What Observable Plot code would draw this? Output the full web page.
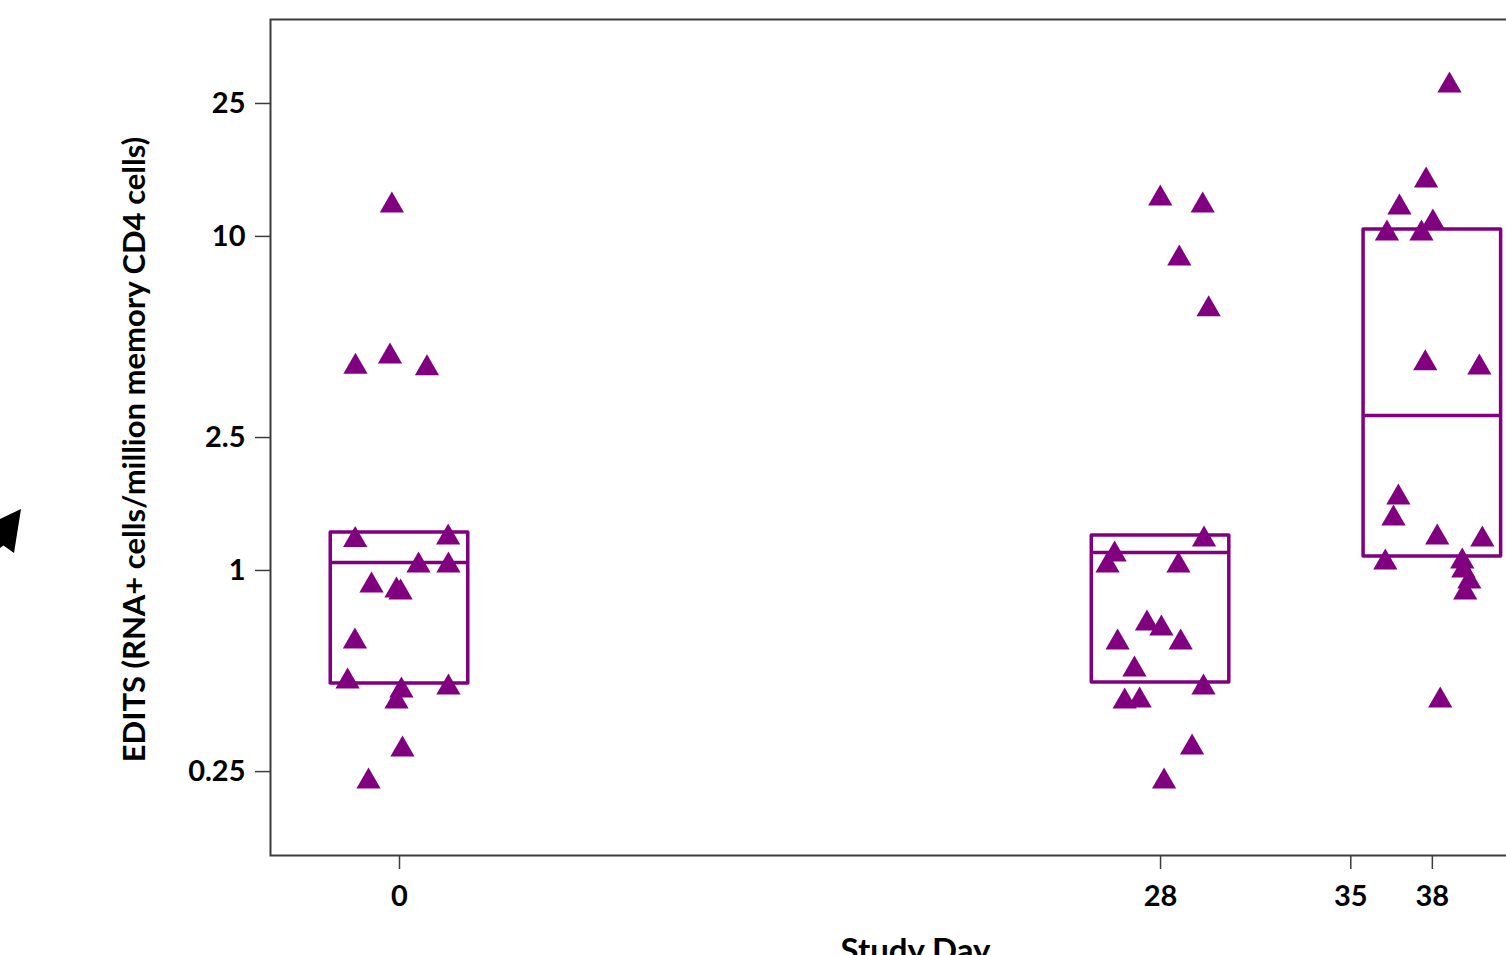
<!DOCTYPE html>
<html><head><meta charset="utf-8">
<script src="https://cdn.jsdelivr.net/npm/d3@7"></script>
<script src="https://cdn.jsdelivr.net/npm/@observablehq/plot@0.6"></script>
<style>
html,body{margin:0;padding:0;background:#fff;overflow:hidden;}
#wrap{position:relative;width:1506px;height:955px;overflow:hidden;background:#fff;}
#chart svg{max-width:none;}
#cursor{position:absolute;left:0;top:0;}
</style></head><body>
<div id="wrap"><div id="chart"></div>
<svg id="cursor" width="30" height="560"><polygon points="0,519 21,509 14,553 3.5,545.5 0,548" fill="#000"/></svg>
</div>
<script>
// Box summaries per study day
const boxDays = [0, 28, 38];
const boxQ1 = [0.459, 0.462, 1.101];
const boxMedian = [1.057, 1.132, 2.91];
const boxQ3 = [1.30, 1.273, 10.49];

// Individual points: study day group, horizontal jitter (days), value
const pointGroup = [
  0,0,0,0,0,0,0,0,0,0,0,0,0,0,0,0,0,0,
  28,28,28,28,28,28,28,28,28,28,28,28,28,28,28,28,28,28,
  38,38,38,38,38,38,38,38,38,38,38,38,38,38,38,38,38,38
];
const pointJitter = [
  -0.28,-1.62,-0.35,1.01,-1.63,1.79,0.70,1.80,-1.03,-0.11,0.04,-1.64,-1.91,0.07,-0.11,1.80,0.11,-1.14,
  -0.01,1.55,0.69,1.77,1.60,-1.69,-1.95,0.66,-0.50,0.03,-1.58,0.74,-0.96,1.58,-1.32,-0.77,1.16,0.13,
  0.63,-0.23,-1.21,0.02,-1.67,-0.40,-0.26,1.73,-1.25,-1.43,0.18,1.84,-1.73,1.10,1.14,1.36,1.21,0.29
];
const pointValue = [
  12.38,4.07,4.37,4.03,1.234,1.255,1.035,1.035,0.902,0.871,0.859,0.613,0.465,0.437,0.405,0.446,0.291,0.2335,
  12.99,12.38,8.59,6.05,1.238,1.117,1.035,1.035,0.694,0.670,0.609,0.609,0.505,0.446,0.405,0.408,0.295,0.2335,
  28.32,14.71,12.21,11.01,10.21,10.21,4.17,4.05,1.654,1.431,1.255,1.238,1.057,1.064,1.0,0.927,0.859,0.408
];

const xTicks = [0, 28, 35, 38];
const yTicks = [0.25, 1, 2.5, 10, 25];
const yTickLabels = ["0.25", "1", "2.5", "10", "25"];
const xLabel = "Study Day";
const yLabel = "EDITS (RNA+ cells/million memory CD4 cells)";

const purple = "#800080";
const halfW = 2.53;
const boxes = boxDays.map((d, i) => ({day: d, q1: boxQ1[i], median: boxMedian[i], q3: boxQ3[i]}));
const pts = pointValue.map((v, i) => ({x: pointGroup[i] + pointJitter[i], v}));

const chart = Plot.plot({
  width: 1560,
  height: 955,
  marginLeft: 270, marginRight: 0, marginTop: 19, marginBottom: 100,
  style: {fontFamily: "Lato, sans-serif", fontWeight: "bold", fontSize: "28px", color: "#000", background: "#fff", maxWidth: "none"},
  x: {domain: [-4.746, 42.715]},
  y: {type: "log", domain: [0.1402, 44.6]},
  marks: [
    Plot.frame({stroke: "#3c3c3c", strokeWidth: 2}),
    Plot.axisY({ticks: yTicks, tickFormat: d => yTickLabels[yTicks.indexOf(d)], tickSize: 15, tickPadding: 10, stroke: "#3c3c3c", strokeWidth: 1.5, fill: "#000", fontSize: 29, fontWeight: "bold", label: null}),
    Plot.axisX({ticks: xTicks, tickFormat: d => String(d), tickSize: 14, tickPadding: 16, stroke: "#3c3c3c", strokeWidth: 1.5, fill: "#000", fontSize: 29, fontWeight: "bold", label: null}),
    Plot.rect(boxes, {x1: d => d.day - halfW, x2: d => d.day + halfW, y1: "q1", y2: "q3", fill: "none", stroke: purple, strokeWidth: 3.5, strokeLinejoin: "round"}),
    Plot.ruleY(boxes, {y: "median", x1: d => d.day - halfW, x2: d => d.day + halfW, stroke: purple, strokeWidth: 3.5}),
    Plot.dot(pts, {x: "x", y: "v", symbol: "triangle", r: 9, fill: purple, stroke: null}),
    Plot.text([yLabel], {text: d => d, frameAnchor: "left", dx: -135, dy: 12, rotate: -90, textAnchor: "middle", lineAnchor: "middle", fontSize: 31, fontWeight: "bold", fill: "#000"}),
    Plot.text([xLabel], {text: d => d, frameAnchor: "bottom", dy: 83, textAnchor: "middle", lineAnchor: "top", fontSize: 33, fontWeight: "bold", fill: "#000"})
  ]
});
document.getElementById("chart").appendChild(chart);
</script>
</body></html>
